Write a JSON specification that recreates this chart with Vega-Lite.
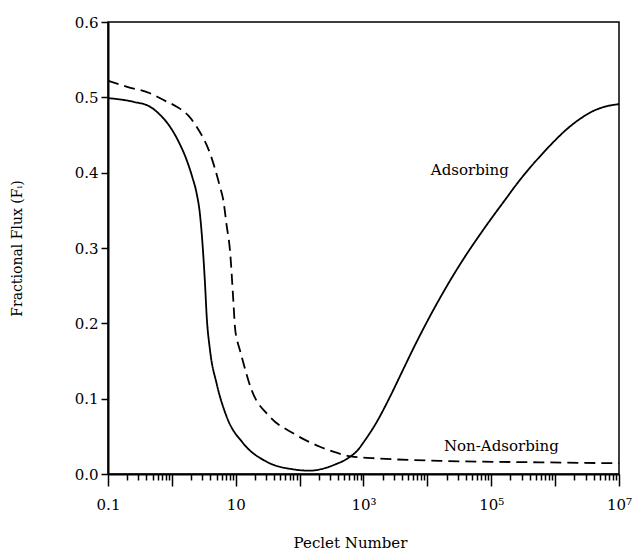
{
  "$schema": "https://vega.github.io/schema/vega-lite/v6.json",
  "autosize": {"type": "none"},
  "width": 511,
  "height": 452,
  "padding": {"left": 108, "top": 22, "right": 18, "bottom": 83},
  "background": "white",
  "config": {
    "font": "DejaVu Serif",
    "view": {"stroke": "black", "strokeWidth": 1.5},
    "axis": {"domainColor": "black", "tickColor": "black", "labelColor": "black", "titleColor": "black", "grid": false, "domainWidth": 2, "tickWidth": 1.5, "labelFont": "DejaVu Serif", "titleFont": "DejaVu Serif", "titleFontWeight": "normal"}
  },
  "datasets": {
    "curves": [
      {"series": "Adsorbing", "pe": 0.1, "flux": 0.499},
      {"series": "Adsorbing", "pe": 0.251, "flux": 0.494},
      {"series": "Adsorbing", "pe": 0.454, "flux": 0.4876},
      {"series": "Adsorbing", "pe": 0.631, "flux": 0.478},
      {"series": "Adsorbing", "pe": 0.934, "flux": 0.461},
      {"series": "Adsorbing", "pe": 1.26, "flux": 0.442},
      {"series": "Adsorbing", "pe": 1.7, "flux": 0.417},
      {"series": "Adsorbing", "pe": 2.09, "flux": 0.394},
      {"series": "Adsorbing", "pe": 2.44, "flux": 0.3726},
      {"series": "Adsorbing", "pe": 2.75, "flux": 0.345},
      {"series": "Adsorbing", "pe": 2.93, "flux": 0.3195},
      {"series": "Adsorbing", "pe": 3.3, "flux": 0.253},
      {"series": "Adsorbing", "pe": 3.51, "flux": 0.209},
      {"series": "Adsorbing", "pe": 3.95, "flux": 0.1646},
      {"series": "Adsorbing", "pe": 5.02, "flux": 0.12},
      {"series": "Adsorbing", "pe": 7.2, "flux": 0.0761},
      {"series": "Adsorbing", "pe": 13.1, "flux": 0.0407},
      {"series": "Adsorbing", "pe": 30.4, "flux": 0.0163},
      {"series": "Adsorbing", "pe": 79.4, "flux": 0.0062},
      {"series": "Adsorbing", "pe": 145, "flux": 0.0044},
      {"series": "Adsorbing", "pe": 250, "flux": 0.0078},
      {"series": "Adsorbing", "pe": 379, "flux": 0.0135},
      {"series": "Adsorbing", "pe": 500, "flux": 0.018},
      {"series": "Adsorbing", "pe": 631, "flux": 0.0235},
      {"series": "Adsorbing", "pe": 800, "flux": 0.031},
      {"series": "Adsorbing", "pe": 1000, "flux": 0.042},
      {"series": "Adsorbing", "pe": 1585, "flux": 0.068},
      {"series": "Adsorbing", "pe": 2512, "flux": 0.1},
      {"series": "Adsorbing", "pe": 3981, "flux": 0.135},
      {"series": "Adsorbing", "pe": 6310, "flux": 0.17},
      {"series": "Adsorbing", "pe": 10000, "flux": 0.203},
      {"series": "Adsorbing", "pe": 15849, "flux": 0.234},
      {"series": "Adsorbing", "pe": 25119, "flux": 0.263},
      {"series": "Adsorbing", "pe": 39811, "flux": 0.29},
      {"series": "Adsorbing", "pe": 63096, "flux": 0.315},
      {"series": "Adsorbing", "pe": 100000, "flux": 0.339},
      {"series": "Adsorbing", "pe": 158489, "flux": 0.362},
      {"series": "Adsorbing", "pe": 251189, "flux": 0.385},
      {"series": "Adsorbing", "pe": 398107, "flux": 0.406},
      {"series": "Adsorbing", "pe": 630957, "flux": 0.425},
      {"series": "Adsorbing", "pe": 1000000, "flux": 0.443},
      {"series": "Adsorbing", "pe": 1584893, "flux": 0.459},
      {"series": "Adsorbing", "pe": 2511886, "flux": 0.472},
      {"series": "Adsorbing", "pe": 3981072, "flux": 0.482},
      {"series": "Adsorbing", "pe": 6309573, "flux": 0.488},
      {"series": "Adsorbing", "pe": 10000000, "flux": 0.491},
      {"series": "Non-Adsorbing", "pe": 0.1, "flux": 0.522},
      {"series": "Non-Adsorbing", "pe": 0.2, "flux": 0.514},
      {"series": "Non-Adsorbing", "pe": 0.454, "flux": 0.5054},
      {"series": "Non-Adsorbing", "pe": 0.8, "flux": 0.495},
      {"series": "Non-Adsorbing", "pe": 1.19, "flux": 0.4876},
      {"series": "Non-Adsorbing", "pe": 1.8, "flux": 0.476},
      {"series": "Non-Adsorbing", "pe": 2.44, "flux": 0.461},
      {"series": "Non-Adsorbing", "pe": 3.95, "flux": 0.4257},
      {"series": "Non-Adsorbing", "pe": 5.66, "flux": 0.3814},
      {"series": "Non-Adsorbing", "pe": 6.38, "flux": 0.3637},
      {"series": "Non-Adsorbing", "pe": 7.2, "flux": 0.33},
      {"series": "Non-Adsorbing", "pe": 8.11, "flux": 0.2974},
      {"series": "Non-Adsorbing", "pe": 9.15, "flux": 0.231},
      {"series": "Non-Adsorbing", "pe": 9.71, "flux": 0.1955},
      {"series": "Non-Adsorbing", "pe": 10.5, "flux": 0.178},
      {"series": "Non-Adsorbing", "pe": 11.6, "flux": 0.1646},
      {"series": "Non-Adsorbing", "pe": 17.7, "flux": 0.1115},
      {"series": "Non-Adsorbing", "pe": 34.3, "flux": 0.076},
      {"series": "Non-Adsorbing", "pe": 79.4, "flux": 0.054},
      {"series": "Non-Adsorbing", "pe": 208, "flux": 0.0362},
      {"series": "Non-Adsorbing", "pe": 336, "flux": 0.0296},
      {"series": "Non-Adsorbing", "pe": 631, "flux": 0.0235},
      {"series": "Non-Adsorbing", "pe": 1800, "flux": 0.0205},
      {"series": "Non-Adsorbing", "pe": 15700, "flux": 0.0175},
      {"series": "Non-Adsorbing", "pe": 575000, "flux": 0.0155},
      {"series": "Non-Adsorbing", "pe": 10000000, "flux": 0.0142}
    ],
    "labels": [
      {"label": "Adsorbing", "pe": 46200, "flux": 0.4036},
      {"label": "Non-Adsorbing", "pe": 144000, "flux": 0.0372}
    ]
  },
  "layer": [
    {
      "data": {"name": "curves"},
      "mark": {"type": "line", "interpolate": "monotone", "strokeWidth": 1.8, "color": "black"},
      "encoding": {
        "x": {
          "field": "pe", "type": "quantitative",
          "scale": {"type": "log", "domain": [0.1, 10000000], "nice": false},
          "axis": {
            "title": "Peclet Number",
            "titleFontSize": 15,
            "titlePadding": 23,
            "titleX": 242,
            "labelFontSize": 15,
            "labelPadding": 11,
            "labelOverlap": false,
            "labelBound": false,
            "labelFlush": false,
            "values": [0.1,0.2,0.3,0.4,0.5,0.6,0.7,0.8,0.9,1,2,3,4,5,6,7,8,9,10,20,30,40,50,60,70,80,90,100,200,300,400,500,600,700,800,900,1000,2000,3000,4000,5000,6000,7000,8000,9000,10000,20000,30000,40000,50000,60000,70000,80000,90000,100000,200000,300000,400000,500000,600000,700000,800000,900000,1000000,2000000,3000000,4000000,5000000,6000000,7000000,8000000,9000000,10000000],
            "labelExpr": "datum.value == 0.1 ? '0.1' : datum.value == 10 ? '10' : datum.value == 1000 ? '10³' : datum.value == 100000 ? '10⁵' : datum.value == 10000000 ? '10⁷' : ''",
            "tickSize": {"condition": {"test": "indexof([0.1,1,10,100,1000,10000,100000,1000000,10000000], datum.value) >= 0", "value": 12}, "value": 6}
          }
        },
        "y": {
          "field": "flux", "type": "quantitative",
          "scale": {"domain": [0, 0.6], "nice": false, "zero": false},
          "axis": {
            "title": "Fractional Flux (Fᵢ)",
            "titleFontSize": 14,
            "titlePadding": 50,
            "labelFontSize": 15,
            "labelPadding": 3,
            "tickSize": 7,
            "values": [0, 0.1, 0.2, 0.3, 0.4, 0.5, 0.6],
            "format": ".1f"
          }
        },
        "detail": {"field": "series"},
        "strokeDash": {
          "field": "series", "type": "nominal",
          "scale": {"domain": ["Adsorbing", "Non-Adsorbing"], "range": [[1, 0], [11, 6]]},
          "legend": null
        }
      }
    },
    {
      "data": {"name": "labels"},
      "mark": {"type": "text", "font": "DejaVu Serif", "fontSize": 15, "color": "black", "align": "center", "baseline": "middle"},
      "encoding": {
        "x": {"field": "pe", "type": "quantitative"},
        "y": {"field": "flux", "type": "quantitative"},
        "text": {"field": "label"}
      }
    }
  ]
}
